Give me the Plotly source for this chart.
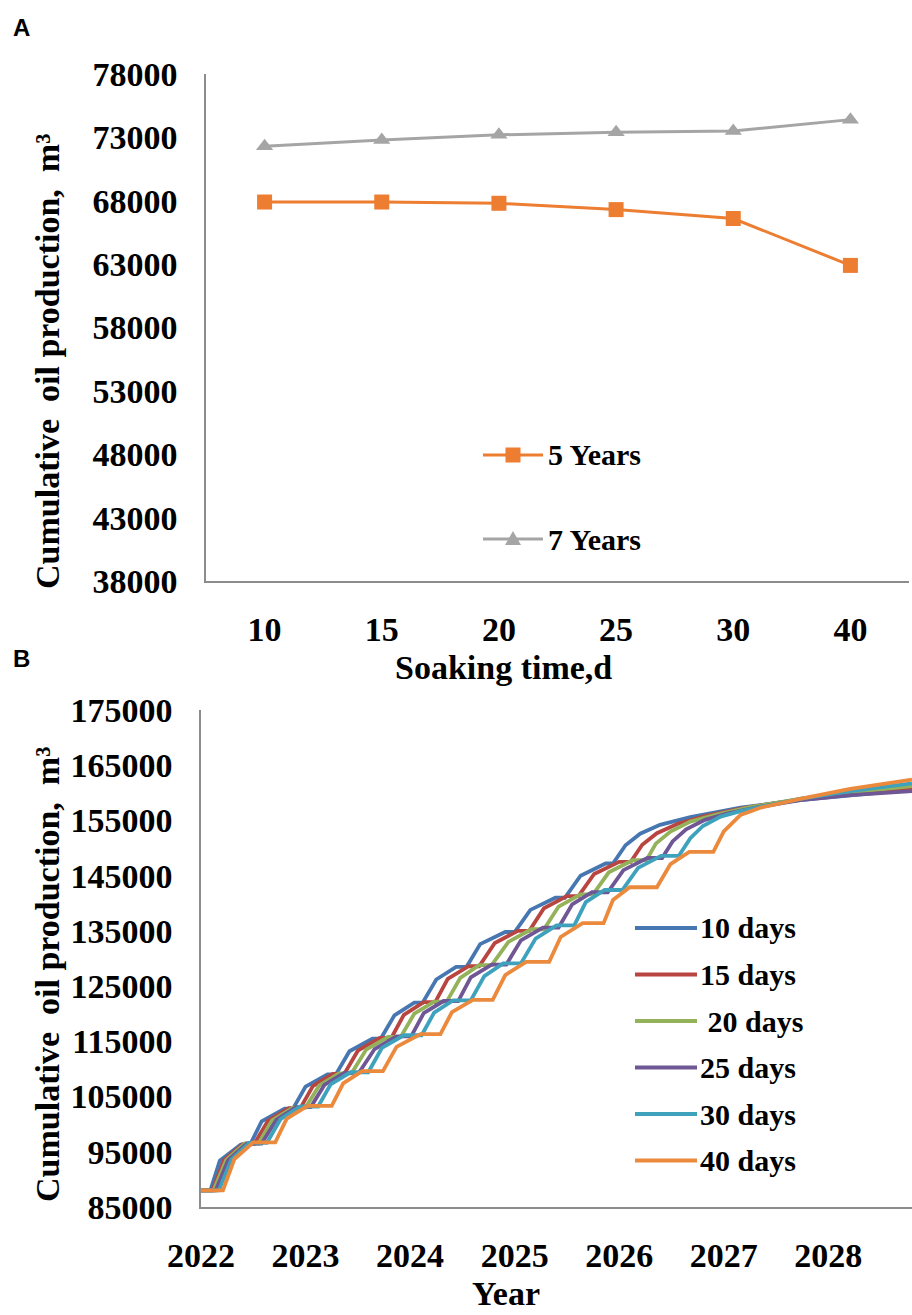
import plotly.graph_objects as go

# ---------------- Panel A: cumulative oil vs soaking time ----------------
soak_days = ["10", "15", "20", "25", "30", "40"]
oil_5yr = [67900, 67900, 67800, 67300, 66600, 62900]
oil_7yr = [72300, 72800, 73200, 73400, 73500, 74400]
a_series = ["5 Years", "7 Years"]
a_yticks = [38000, 43000, 48000, 53000, 58000, 63000, 68000, 73000, 78000]

# ---------------- Panel B: cumulative oil (thousand m3) vs year ----------------
yr_10 = [2022.00, 2022.09, 2022.18, 2022.38, 2022.47, 2022.58, 2022.80, 2022.88, 2023.00, 2023.21,
         2023.29, 2023.42, 2023.64, 2023.72, 2023.85, 2024.04, 2024.12, 2024.25, 2024.44, 2024.54,
         2024.67, 2024.91, 2025.00, 2025.15, 2025.39, 2025.48, 2025.63, 2025.87, 2025.94, 2026.06,
         2026.20, 2026.39, 2026.68, 2027.16, 2027.73, 2028.21, 2028.80]
oil_10 = [88.0, 88.0, 93.4, 96.3, 96.3, 100.5, 102.8, 102.8, 106.8, 109.0,
          109.0, 113.2, 115.5, 115.5, 119.7, 122.0, 122.0, 126.2, 128.5, 128.5,
          132.6, 134.8, 134.8, 138.8, 141.0, 141.0, 145.0, 147.2, 147.2, 150.5,
          152.6, 154.2, 155.6, 157.3, 158.7, 159.6, 160.6]

yr_15 = [2022.00, 2022.11, 2022.22, 2022.40, 2022.51, 2022.64, 2022.84, 2022.95, 2023.07, 2023.26,
         2023.37, 2023.50, 2023.71, 2023.82, 2023.94, 2024.13, 2024.24, 2024.36, 2024.56, 2024.66,
         2024.81, 2025.03, 2025.14, 2025.28, 2025.50, 2025.61, 2025.76, 2026.00, 2026.11, 2026.22,
         2026.36, 2026.56, 2026.82, 2027.21, 2027.73, 2028.21, 2028.80]
oil_15 = [88.0, 88.0, 93.5, 96.4, 96.4, 100.6, 102.9, 102.9, 106.9, 109.1,
          109.1, 113.3, 115.6, 115.6, 119.8, 122.1, 122.1, 126.3, 128.6, 128.6,
          132.8, 135.0, 135.0, 139.1, 141.3, 141.3, 145.3, 147.5, 147.5, 150.6,
          152.7, 154.4, 155.8, 157.3, 158.8, 159.9, 160.9]

yr_20 = [2022.00, 2022.12, 2022.24, 2022.42, 2022.55, 2022.68, 2022.88, 2023.00, 2023.13, 2023.32,
         2023.44, 2023.58, 2023.79, 2023.91, 2024.04, 2024.23, 2024.35, 2024.48, 2024.66, 2024.78,
         2024.94, 2025.16, 2025.28, 2025.42, 2025.63, 2025.75, 2025.90, 2026.13, 2026.26, 2026.35,
         2026.49, 2026.68, 2026.92, 2027.25, 2027.73, 2028.21, 2028.80]
oil_20 = [88.0, 88.0, 93.5, 96.5, 96.5, 100.7, 103.0, 103.0, 107.0, 109.2,
          109.2, 113.5, 115.8, 115.8, 120.0, 122.2, 122.2, 126.5, 128.8, 128.8,
          133.0, 135.3, 135.3, 139.4, 141.6, 141.6, 145.6, 147.8, 147.8, 150.8,
          153.0, 154.8, 156.0, 157.4, 158.9, 160.1, 161.2]

yr_25 = [2022.00, 2022.14, 2022.26, 2022.44, 2022.58, 2022.72, 2022.91, 2023.05, 2023.18, 2023.37,
         2023.51, 2023.66, 2023.87, 2024.01, 2024.13, 2024.32, 2024.46, 2024.58, 2024.78, 2024.92,
         2025.06, 2025.27, 2025.42, 2025.55, 2025.74, 2025.89, 2026.04, 2026.27, 2026.41, 2026.51,
         2026.64, 2026.82, 2027.04, 2027.33, 2027.73, 2028.21, 2028.80]
oil_25 = [88.0, 88.0, 93.5, 96.5, 96.5, 100.8, 103.1, 103.1, 107.1, 109.3,
          109.3, 113.6, 115.9, 115.9, 120.1, 122.3, 122.3, 126.6, 128.9, 128.9,
          133.3, 135.6, 135.6, 139.8, 142.0, 142.0, 146.0, 148.2, 148.2, 151.2,
          153.4, 155.1, 156.3, 157.4, 158.7, 159.6, 160.3]

yr_30 = [2022.00, 2022.17, 2022.29, 2022.46, 2022.63, 2022.76, 2022.95, 2023.12, 2023.24, 2023.43,
         2023.60, 2023.73, 2023.94, 2024.11, 2024.23, 2024.41, 2024.58, 2024.71, 2024.89, 2025.06,
         2025.20, 2025.40, 2025.57, 2025.68, 2025.86, 2026.03, 2026.18, 2026.40, 2026.57, 2026.68,
         2026.80, 2026.97, 2027.16, 2027.40, 2027.73, 2028.21, 2028.80]
oil_30 = [88.0, 88.0, 93.6, 96.6, 96.6, 100.9, 103.2, 103.2, 107.2, 109.4,
          109.4, 113.8, 116.1, 116.1, 120.2, 122.4, 122.4, 126.8, 129.1, 129.1,
          133.6, 136.0, 136.0, 140.2, 142.4, 142.4, 146.4, 148.6, 148.6, 151.8,
          154.0, 155.7, 156.7, 157.6, 158.9, 160.3, 161.7]

yr_40 = [2022.00, 2022.21, 2022.32, 2022.50, 2022.71, 2022.82, 2023.02, 2023.25, 2023.36, 2023.54,
         2023.74, 2023.87, 2024.10, 2024.29, 2024.40, 2024.60, 2024.79, 2024.91, 2025.11, 2025.33,
         2025.44, 2025.65, 2025.85, 2025.94, 2026.10, 2026.36, 2026.49, 2026.67, 2026.90, 2027.00,
         2027.16, 2027.35, 2027.73, 2028.21, 2028.80]
oil_40 = [88.0, 88.0, 93.7, 96.7, 96.7, 101.0, 103.3, 103.3, 107.4, 109.6,
          109.6, 114.0, 116.3, 116.3, 120.3, 122.5, 122.5, 127.0, 129.4, 129.4,
          133.9, 136.4, 136.4, 140.6, 142.9, 142.9, 147.1, 149.3, 149.3, 153.0,
          156.0, 157.3, 158.9, 160.7, 162.4]

b_labels = ["10 days", "15 days", " 20 days", "25 days", "30 days", "40 days"]
b_years = [yr_10, yr_15, yr_20, yr_25, yr_30, yr_40]
b_oil = [oil_10, oil_15, oil_20, oil_25, oil_30, oil_40]
b_colors = ["#4677B0", "#B94541", "#93B25A", "#6E5794", "#3FA2BD", "#EB8A3C"]
b_xticks = [2022, 2023, 2024, 2025, 2026, 2027, 2028]
b_yticks = [85000, 95000, 105000, 115000, 125000, 135000, 145000, 155000, 165000, 175000]

ORANGE = "#ED7D31"
GRAY = "#A5A5A5"
AXIS = "#8C8C8C"
SERIF = "Liberation Serif, Times New Roman, serif"
SANS = "Liberation Sans, Arial, sans-serif"

W, H = 912, 1315


def px(x):
    return x / W


def py(y):
    return 1 - y / H


fig = go.Figure()

# Panel A lines
fig.add_trace(go.Scatter(
    x=soak_days, y=oil_5yr, mode="lines+markers", name=a_series[0],
    line=dict(color=ORANGE, width=3),
    marker=dict(symbol="square", size=15, color=ORANGE),
    xaxis="x", yaxis="y", showlegend=False))
fig.add_trace(go.Scatter(
    x=soak_days, y=oil_7yr, mode="lines+markers", name=a_series[1],
    line=dict(color=GRAY, width=3),
    marker=dict(symbol="triangle-up", size=15, color=GRAY),
    xaxis="x", yaxis="y", showlegend=False))

# Panel B lines
for name, xs, ys, col in zip(b_labels, b_years, b_oil, b_colors):
    fig.add_trace(go.Scatter(
        x=xs, y=[v * 1000 for v in ys], mode="lines", name=name.strip(),
        line=dict(color=col, width=3.8),
        xaxis="x2", yaxis="y2", showlegend=False))

tick_font = dict(family=SERIF, size=34, color="black", weight="bold")
axis_common = dict(showline=True, linecolor=AXIS, linewidth=1.5, showgrid=False,
                   zeroline=False, ticks="", tickfont=tick_font, automargin=False)

fig.update_layout(
    width=W, height=H,
    margin=dict(l=0, r=0, t=0, b=0),
    paper_bgcolor="white", plot_bgcolor="white",
    xaxis=dict(domain=[px(206), px(909)], type="category", range=[-0.5, 5.5],
               anchor="y", ticklabelstandoff=17, **axis_common),
    yaxis=dict(domain=[py(581), py(74)], range=[38000, 78000],
               tickvals=a_yticks, ticktext=[str(v) for v in a_yticks],
               anchor="x", ticklabelstandoff=20, **axis_common),
    xaxis2=dict(domain=[px(201), 1.0], range=[2022, 2028.8],
                tickvals=b_xticks, ticktext=[str(v) for v in b_xticks],
                anchor="y2", ticklabelstandoff=17, **axis_common),
    yaxis2=dict(domain=[py(1207), py(710)], range=[85000, 175000],
                tickvals=b_yticks, ticktext=[str(v) for v in b_yticks],
                anchor="x2", ticklabelstandoff=20, **axis_common),
    showlegend=False,
)

annotations = []
shapes = []

# Panel letters
annotations.append(dict(text="<b>A</b>", x=px(11), y=py(27), xref="paper", yref="paper",
                        xanchor="left", yanchor="middle", showarrow=False,
                        font=dict(family=SANS, size=24, color="black")))
annotations.append(dict(text="<b>B</b>", x=px(11), y=py(658), xref="paper", yref="paper",
                        xanchor="left", yanchor="middle", showarrow=False,
                        font=dict(family=SANS, size=24, color="black")))

title_font = dict(family=SERIF, size=34, color="black")
ytitle = "<b>Cumulative  oil production,  m³</b>"
annotations.append(dict(text=ytitle, x=px(47), y=py(362), xref="paper", yref="paper",
                        textangle=-90, showarrow=False, font=title_font,
                        xanchor="center", yanchor="middle"))
annotations.append(dict(text=ytitle, x=px(47), y=py(975), xref="paper", yref="paper",
                        textangle=-90, showarrow=False, font=title_font,
                        xanchor="center", yanchor="middle"))
annotations.append(dict(text="<b>Soaking time,d</b>", x=px(503), y=py(667), xref="paper",
                        yref="paper", showarrow=False, font=title_font,
                        xanchor="center", yanchor="middle"))
annotations.append(dict(text="<b>Year</b>", x=px(506), y=py(1293), xref="paper",
                        yref="paper", showarrow=False, font=title_font,
                        xanchor="center", yanchor="middle"))

# Panel A legend
leg_font = dict(family=SERIF, size=30, color="black")
a_leg_y = [455, 539]
a_leg_col = [ORANGE, GRAY]
for i, (name, col) in enumerate(zip(a_series, a_leg_col)):
    yy = a_leg_y[i]
    shapes.append(dict(type="line", xref="paper", yref="paper",
                       x0=px(483), x1=px(543), y0=py(yy), y1=py(yy),
                       line=dict(color=col, width=3)))
    if i == 0:
        shapes.append(dict(type="rect", xref="paper", yref="paper",
                           x0=px(505.5), x1=px(520.5), y0=py(yy + 7.5), y1=py(yy - 7.5),
                           fillcolor=col, line=dict(width=0)))
    else:
        path = "M{:.5f},{:.5f} L{:.5f},{:.5f} L{:.5f},{:.5f} Z".format(
            px(505), py(yy + 6), px(521), py(yy + 6), px(513), py(yy - 8))
        shapes.append(dict(type="path", xref="paper", yref="paper", path=path,
                           fillcolor=col, line=dict(width=0)))
    annotations.append(dict(text="<b>" + name + "</b>", x=px(546), y=py(yy),
                            xref="paper", yref="paper", showarrow=False,
                            xanchor="left", yanchor="middle", font=leg_font))

# Panel B legend
b_leg_top, b_leg_step = 928, 46.5
for i, (name, col) in enumerate(zip(b_labels, b_colors)):
    yy = b_leg_top + i * b_leg_step
    shapes.append(dict(type="line", xref="paper", yref="paper",
                       x0=px(635), x1=px(697), y0=py(yy), y1=py(yy),
                       line=dict(color=col, width=4)))
    label = name.replace(" ", "&nbsp;", 1) if name.startswith(" ") else name
    annotations.append(dict(text="<b>" + label + "</b>", x=px(698), y=py(yy),
                            xref="paper", yref="paper", showarrow=False,
                            xanchor="left", yanchor="middle", font=leg_font))

fig.update_layout(annotations=annotations, shapes=shapes)

fig.write_html("out.html")
